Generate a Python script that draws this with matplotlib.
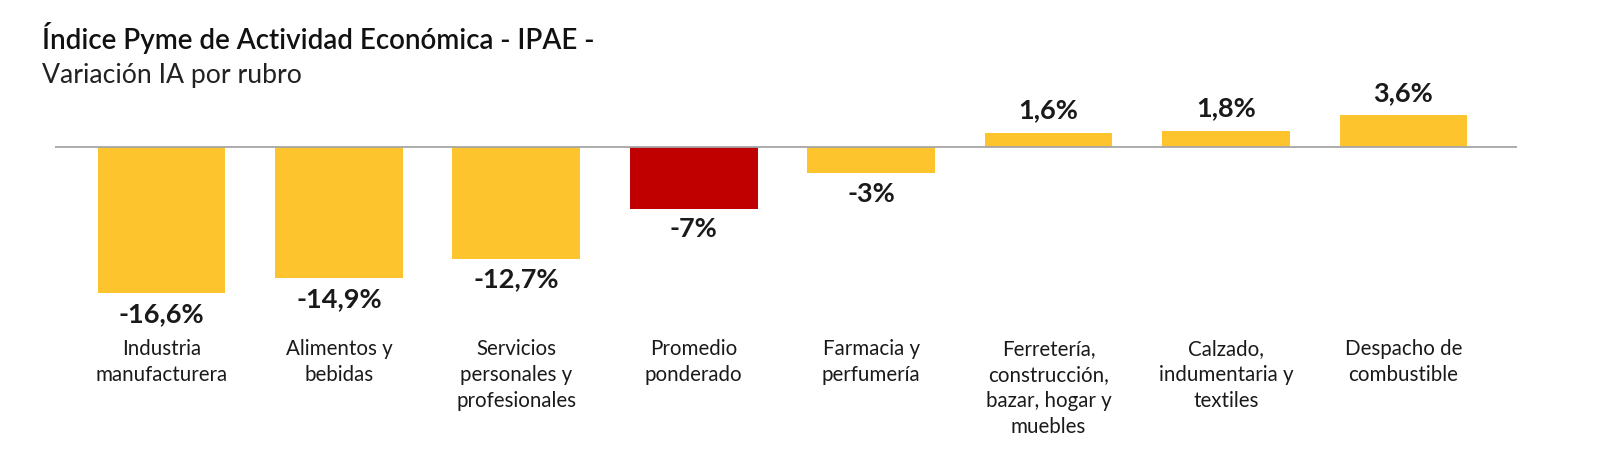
import numpy as np
import matplotlib.pyplot as plt

# Datos del gráfico
rubros = ['Industria\nmanufacturera', 'Alimentos y\nbebidas',
          'Servicios\npersonales y\nprofesionales', 'Promedio\nponderado',
          'Farmacia y\nperfumería',
          'Ferretería,\nconstrucción,\nbazar, hogar y\nmuebles',
          'Calzado,\nindumentaria y\ntextiles', 'Despacho de\ncombustible']
variacion = [-16.6, -14.9, -12.7, -7.0, -3.0, 1.6, 1.8, 3.6]
etiquetas = ['-16,6%', '-14,9%', '-12,7%', '-7%', '-3%', '1,6%', '1,8%', '3,6%']
colores = ['#FEC42E'] * 8
colores[3] = '#C00000'

plt.rcParams['font.family'] = ['Lato', 'DejaVu Sans']

W, H = 1600, 466
fig = plt.figure(figsize=(W / 100, H / 100), dpi=100)
fig.patch.set_facecolor('white')

# Eje: de x=55 a x=1517 px, ocupa toda la altura
ax = fig.add_axes([55 / W, 0, (1517 - 55) / W, 1])
escala = 8.8          # px por punto porcentual
y0 = 147              # línea base en px desde arriba
ax.set_ylim(-(H - y0) / escala, y0 / escala)
ax.set_xlim(-0.6, 7.64)
ax.axis('off')

x = np.arange(len(rubros))
ax.bar(x, variacion, width=0.72, color=colores, zorder=2)
ax.axhline(0, color='#A6A6A6', lw=1.3, zorder=3)

for xi, v, t in zip(x, variacion, etiquetas):
    if v < 0:
        ax.text(xi, v - 1.0, t, ha='center', va='top', fontsize=19.5,
                fontweight='bold', color='#1a1a1a')
    else:
        ax.text(xi, v + 1.2, t, ha='center', va='bottom', fontsize=19.5,
                fontweight='bold', color='#1a1a1a')

# Etiquetas de categoría a altura fija
trans = ax.get_xaxis_transform()
for xi, r in zip(x, rubros):
    ax.text(xi, 1 - 339 / H, r, transform=trans, ha='center', va='top',
            fontsize=14.8, color='#1a1a1a', linespacing=1.37)

fig.text(42 / W, 1 - 22 / H, 'Índice Pyme de Actividad Económica - IPAE -',
         ha='left', va='top', fontsize=20, fontweight='semibold', color='#111111')
fig.text(42 / W, 1 - 63 / H, 'Variación IA por rubro',
         ha='left', va='top', fontsize=19.2, color='#222222')

fig.savefig('out.png', dpi=100)
